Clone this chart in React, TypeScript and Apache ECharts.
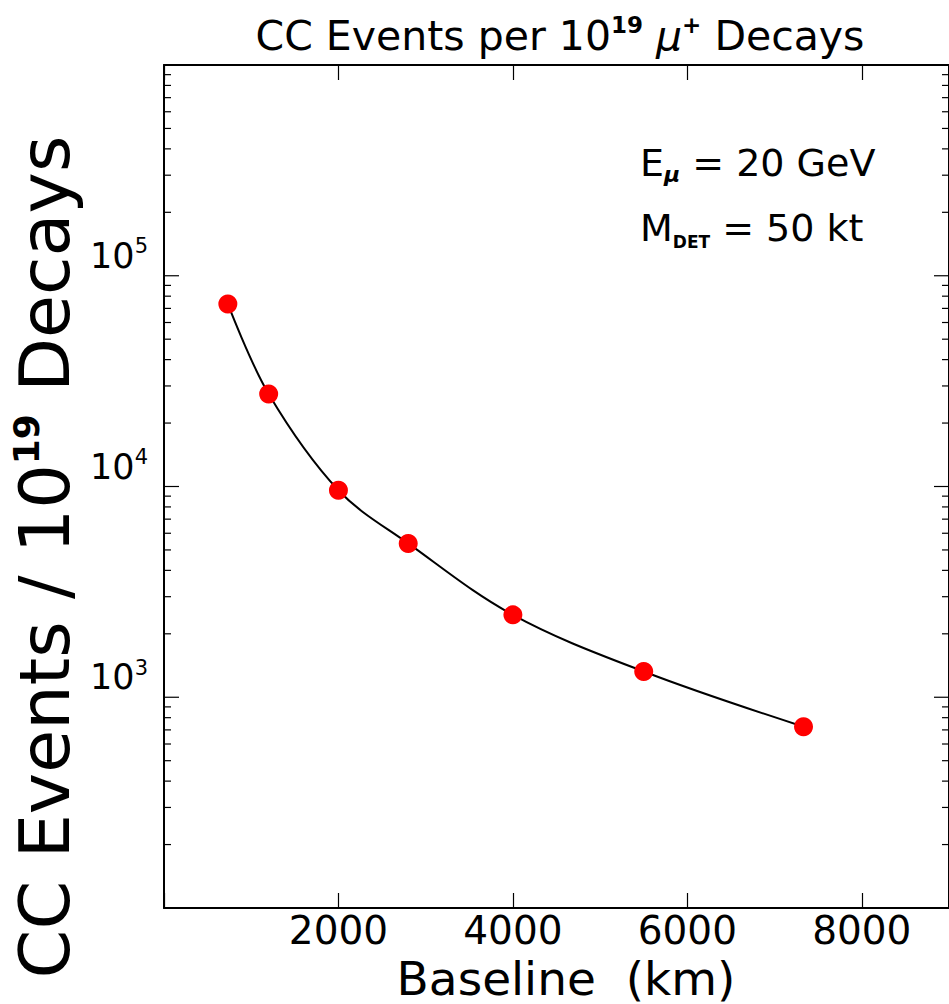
import { useEffect, useRef } from "react";
import * as echarts from "echarts";

// Data
const baselineKm = [732, 1200, 2000, 2800, 4000, 5500, 7332];
const ccEvents = [73500, 27500, 9600, 5370, 2460, 1325, 725];

// Axis settings
const xMin = 0;
const xMax = 9000;
const xInterval = 2000;
const yMin = 100;
const yMax = 1000000;
const labelledExponents = [3, 4, 5];
const majorTickValues = [1000, 10000, 100000];
const minorMultipliers = [2, 3, 4, 5, 6, 7, 8, 9];
const decadeStarts = [100, 1000, 10000, 100000];

const FONT = "DejaVu Sans";

export default function App() {
  const ref = useRef<HTMLDivElement>(null);

  useEffect(() => {
    if (!ref.current) return;
    const chart = echarts.init(ref.current, undefined, { renderer: "svg" });

    // [x, y, tickLength]
    const yTicks: number[][] = [];
    decadeStarts.forEach((d) =>
      minorMultipliers.forEach((m) => yTicks.push([xMin, m * d, 7]))
    );
    majorTickValues.forEach((v) => yTicks.push([xMin, v, 15]));

    const axisLineStyle = { color: "#000", width: 2 };
    const tickStyle = { color: "#000", width: 1.2 };

    const option: any = {
      animation: false,
      backgroundColor: "#fff",
      grid: { left: 164, top: 65, width: 790, height: 843, containLabel: false },
      xAxis: [
        {
          type: "value",
          min: xMin,
          max: xMax,
          interval: xInterval,
          position: "bottom",
          axisLine: { show: true, onZero: false, lineStyle: axisLineStyle },
          axisTick: { show: true, inside: true, length: 15, lineStyle: tickStyle },
          splitLine: { show: false },
          axisLabel: {
            show: true,
            margin: 4,
            fontFamily: FONT,
            fontSize: 39,
            lineHeight: 36,
            color: "#000",
            formatter: (v: number) => (v === 0 ? "" : String(v)),
          },
        },
        {
          type: "value",
          min: xMin,
          max: xMax,
          interval: xInterval,
          position: "top",
          axisLine: { show: true, onZero: false, lineStyle: axisLineStyle },
          axisTick: { show: true, inside: true, length: 15, lineStyle: tickStyle },
          splitLine: { show: false },
          axisLabel: { show: false },
        },
      ],
      yAxis: [
        {
          type: "log",
          logBase: 10,
          min: yMin,
          max: yMax,
          position: "left",
          axisLine: { show: true, onZero: false, lineStyle: axisLineStyle },
          axisTick: { show: false },
          splitLine: { show: false },
          axisLabel: {
            show: true,
            margin: 16,
            verticalAlign: "bottom",
            color: "#000",
            fontFamily: FONT,
            formatter: (v: number) => {
              const e = Math.round(Math.log10(v));
              return labelledExponents.includes(e) ? `{b|10}{s|${e}}` : "";
            },
            rich: {
              b: { fontFamily: FONT, fontSize: 35, color: "#000", lineHeight: 40 },
              s: { fontFamily: FONT, fontSize: 21, color: "#000", verticalAlign: "top", lineHeight: 22 },
            },
          },
        },
        {
          type: "log",
          logBase: 10,
          min: yMin,
          max: yMax,
          position: "right",
          axisLine: { show: true, onZero: false, lineStyle: axisLineStyle },
          axisTick: { show: false },
          splitLine: { show: false },
          axisLabel: { show: false },
        },
      ],
      series: [
        {
          type: "custom",
          xAxisIndex: 0,
          yAxisIndex: 0,
          silent: true,
          clip: false,
          data: yTicks,
          encode: { x: 0, y: 1 },
          renderItem: (_p: any, api: any) => {
            const v = api.value(1);
            const len = api.value(2);
            const pL = api.coord([xMin, v]);
            const pR = api.coord([xMax, v]);
            return {
              type: "group",
              children: [
                {
                  type: "line",
                  shape: { x1: pL[0], y1: pL[1], x2: pL[0] + len, y2: pL[1] },
                  style: { stroke: "#000", lineWidth: 1.2 },
                },
                {
                  type: "line",
                  shape: { x1: pR[0], y1: pR[1], x2: pR[0] - len, y2: pR[1] },
                  style: { stroke: "#000", lineWidth: 1.2 },
                },
              ],
            };
          },
        },
        {
          type: "line",
          xAxisIndex: 0,
          yAxisIndex: 0,
          data: baselineKm.map((x, i) => [x, ccEvents[i]]),
          smooth: 0.35,
          symbol: "circle",
          symbolSize: 19,
          lineStyle: { color: "#000", width: 2 },
          itemStyle: { color: "#ff0000" },
          z: 3,
        },
      ],
      graphic: [
        {
          type: "text",
          x: 560,
          y: 36,
          style: {
            text: "{a|CC Events per 10}{s|19}{a| }{i|μ}{s|+}{a| Decays}",
            align: "center",
            verticalAlign: "middle",
            rich: {
              a: { fontFamily: FONT, fontSize: 41, fill: "#000", lineHeight: 46 },
              i: { fontFamily: FONT, fontSize: 41, fontStyle: "italic", fill: "#000", lineHeight: 46 },
              s: { fontFamily: FONT, fontSize: 23, fontWeight: "bold", fill: "#000", verticalAlign: "top", lineHeight: 24 },
            },
          },
        },
        {
          type: "text",
          x: 566,
          y: 978,
          style: {
            text: "Baseline  (km)",
            align: "center",
            verticalAlign: "middle",
            fontFamily: FONT,
            fontSize: 47,
            lineHeight: 48,
            fill: "#000",
          },
        },
        {
          type: "text",
          x: 45,
          y: 557,
          rotation: Math.PI / 2,
          style: {
            text: "{a|CC Events / 10}{s|19}{a| Decays}",
            align: "center",
            verticalAlign: "middle",
            rich: {
              a: { fontFamily: FONT, fontSize: 70, fill: "#000", lineHeight: 74 },
              s: { fontFamily: FONT, fontSize: 36, fontWeight: "bold", fill: "#000", verticalAlign: "top", lineHeight: 38 },
            },
          },
        },
        {
          type: "text",
          x: 640,
          y: 163,
          style: {
            text: "{a|E}{u|μ}{a| = 20 GeV}",
            align: "left",
            verticalAlign: "middle",
            rich: {
              a: { fontFamily: FONT, fontSize: 38, fill: "#000", lineHeight: 44 },
              u: { fontFamily: FONT, fontSize: 22, fontStyle: "italic", fontWeight: "bold", fill: "#000", verticalAlign: "bottom", lineHeight: 20 },
            },
          },
        },
        {
          type: "text",
          x: 640,
          y: 228,
          style: {
            text: "{a|M}{u|DET}{a| = 50 kt}",
            align: "left",
            verticalAlign: "middle",
            rich: {
              a: { fontFamily: FONT, fontSize: 38, fill: "#000", lineHeight: 44 },
              u: { fontFamily: FONT, fontSize: 17, fontWeight: "bold", fill: "#000", verticalAlign: "bottom", lineHeight: 22 },
            },
          },
        },
      ],
    };

    chart.setOption(option);
    return () => chart.dispose();
  }, []);

  return (
    <div
      ref={ref}
      style={{ position: "absolute", left: 0, top: 0, width: 949, height: 1004 }}
    />
  );
}
